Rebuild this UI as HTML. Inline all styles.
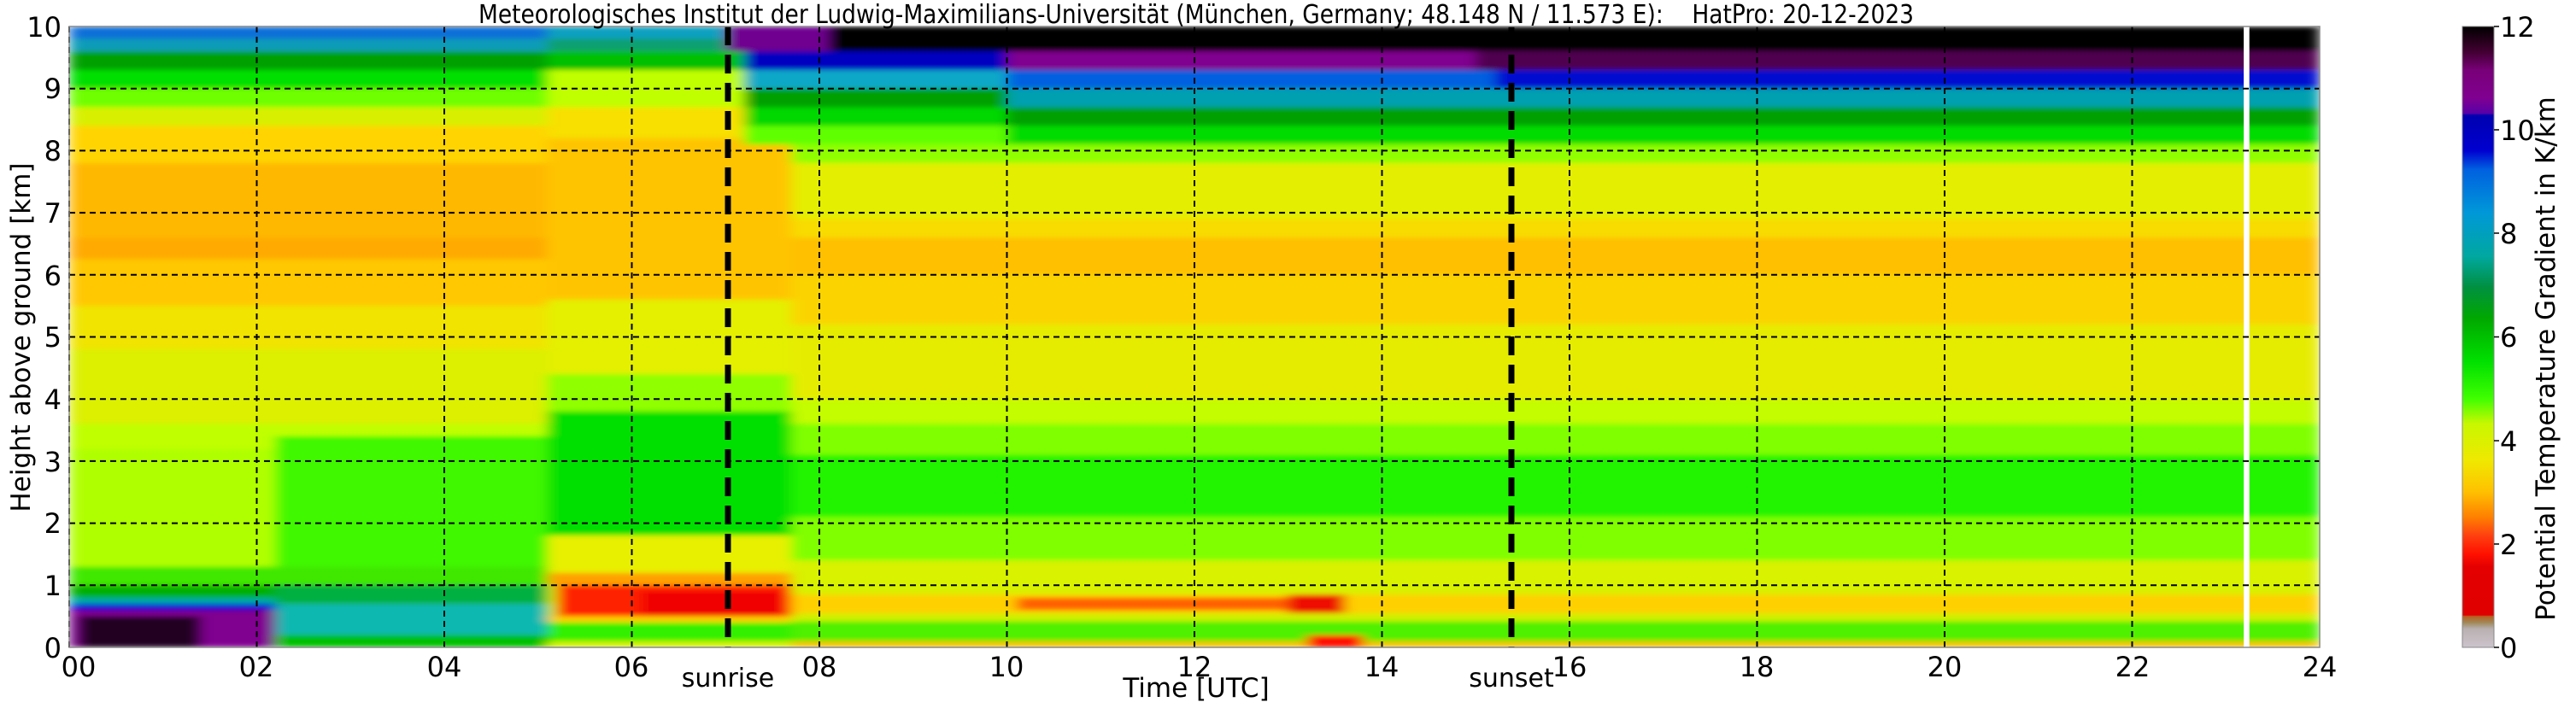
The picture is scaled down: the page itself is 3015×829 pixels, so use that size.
<!DOCTYPE html>
<html><head><meta charset="utf-8">
<style>
html,body{margin:0;padding:0;background:#fff;}
svg text{font-family:"DejaVu Sans","Liberation Sans",sans-serif;fill:#000;}
</style></head>
<body>
<svg width="3015" height="824" xmlns="http://www.w3.org/2000/svg">
<defs>
<linearGradient id="cb" x1="0" y1="1" x2="0" y2="0">
<stop offset="0" stop-color="#ccc4cc"/><stop offset="0.03" stop-color="#b8b0b0"/>
<stop offset="0.04" stop-color="#a08858"/><stop offset="0.05" stop-color="#b86020"/>
<stop offset="0.052" stop-color="#e00000"/><stop offset="0.13" stop-color="#e40000"/>
<stop offset="0.15" stop-color="#ff1000"/><stop offset="0.18" stop-color="#ff4010"/>
<stop offset="0.21" stop-color="#ff8000"/><stop offset="0.25" stop-color="#ffc000"/>
<stop offset="0.3" stop-color="#f0e800"/><stop offset="0.36" stop-color="#c8f800"/>
<stop offset="0.4" stop-color="#40ff00"/><stop offset="0.46" stop-color="#00e000"/>
<stop offset="0.53" stop-color="#00a800"/><stop offset="0.58" stop-color="#009040"/>
<stop offset="0.63" stop-color="#00a8a0"/><stop offset="0.7" stop-color="#0098d8"/>
<stop offset="0.77" stop-color="#0060e0"/><stop offset="0.8" stop-color="#0000d0"/>
<stop offset="0.857" stop-color="#0000b0"/><stop offset="0.86" stop-color="#5800a8"/>
<stop offset="0.885" stop-color="#800090"/><stop offset="0.93" stop-color="#780078"/>
<stop offset="0.96" stop-color="#400030"/><stop offset="1" stop-color="#000"/>
</linearGradient>
</defs>

<svg x="81" y="31" width="2634" height="727" viewBox="0 0 24 10" preserveAspectRatio="none">
<defs>
<filter id="bl" x="0" y="0" width="1" height="1"><feGaussianBlur stdDeviation="0.07 0.04" edgeMode="duplicate"/></filter>
</defs>
<g filter="url(#bl)">
<rect x="0" y="0" width="24" height="10" fill="#d0f000"/>
<rect x="0" y="0" width="5.1" height="0.2" fill="#0a70d8"/>
<rect x="0" y="0.2" width="5.1" height="0.2" fill="#0a9cb8"/>
<rect x="0" y="0.4" width="5.1" height="0.3" fill="#00a000"/>
<rect x="0" y="0.7" width="5.1" height="0.3" fill="#00e000"/>
<rect x="0" y="1.0" width="5.1" height="0.3" fill="#70ff00"/>
<rect x="0" y="1.3" width="5.1" height="0.3" fill="#d8f000"/>
<rect x="0" y="1.6" width="5.1" height="0.6" fill="#ffd400"/>
<rect x="0" y="2.2" width="5.1" height="1.2" fill="#ffb800"/>
<rect x="0" y="3.4" width="5.1" height="0.35" fill="#ffaa00"/>
<rect x="0" y="3.75" width="5.1" height="0.75" fill="#ffc800"/>
<rect x="0" y="4.5" width="5.1" height="0.7" fill="#f0e400"/>
<rect x="0" y="5.2" width="5.1" height="1.2" fill="#dcf000"/>
<rect x="0" y="6.4" width="5.1" height="0.4" fill="#c0ff00"/>
<rect x="0" y="6.8" width="5.1" height="1.9" fill="#b0ff00"/>
<rect x="2.2" y="6.6" width="2.9" height="2.2" fill="#40f800"/>
<rect x="0" y="8.7" width="5.1" height="0.3" fill="#40e800"/>
<rect x="0" y="9.0" width="5.1" height="0.2" fill="#00b000"/>
<rect x="0" y="9.2" width="2.2" height="0.1" fill="#00a8a8"/>
<rect x="0" y="9.3" width="2.2" height="0.1" fill="#0000d8"/>
<rect x="0" y="9.4" width="2.2" height="0.6" fill="#800090"/>
<rect x="0.1" y="9.5" width="1.3" height="0.5" fill="#200020"/>
<rect x="2.2" y="9.0" width="2.9" height="0.3" fill="#00b040"/>
<rect x="2.2" y="9.3" width="2.9" height="0.5" fill="#10b8b0"/>
<rect x="2.2" y="9.8" width="2.9" height="0.2" fill="#00c000"/>

<rect x="5.1" y="0" width="2.6" height="0.2" fill="#10a0c0"/>
<rect x="5.1" y="0.2" width="2.6" height="0.2" fill="#10a070"/>
<rect x="5.1" y="0.4" width="2.6" height="0.3" fill="#00c000"/>
<rect x="5.1" y="0.7" width="2.6" height="0.6" fill="#c0ff00"/>
<rect x="5.1" y="1.3" width="2.6" height="0.5" fill="#f8e000"/>
<rect x="5.1" y="1.8" width="2.6" height="2.6" fill="#ffc400"/>
<rect x="5.1" y="4.4" width="2.6" height="1.2" fill="#e4f000"/>
<rect x="5.1" y="5.6" width="2.6" height="0.6" fill="#90ff00"/>
<rect x="5.1" y="6.2" width="2.6" height="2.0" fill="#00e000"/>
<rect x="5.1" y="8.2" width="2.6" height="0.6" fill="#e8f000"/>
<rect x="5.1" y="8.8" width="2.6" height="0.2" fill="#ffa000"/>
<rect x="5.2" y="9.0" width="2.5" height="0.5" fill="#ff2000"/>
<rect x="6.1" y="9.1" width="1.5" height="0.4" fill="#f00000"/>
<rect x="5.1" y="9.5" width="2.6" height="0.1" fill="#ffd000"/>
<rect x="5.1" y="9.6" width="2.6" height="0.3" fill="#30f000"/>
<rect x="5.1" y="9.9" width="2.6" height="0.1" fill="#d0f000"/>

<rect x="7.7" y="0" width="16.3" height="0.4" fill="#000"/>
<rect x="7.0" y="0" width="1.1" height="0.4" fill="#700090"/>
<rect x="7.7" y="0.4" width="16.3" height="0.3" fill="#800090"/>
<rect x="15.0" y="0.4" width="9.0" height="0.3" fill="#500050"/>
<rect x="7.2" y="0.4" width="2.8" height="0.3" fill="#0000c0"/>
<rect x="7.2" y="0.7" width="16.8" height="0.3" fill="#0060e0"/>
<rect x="15.2" y="0.7" width="8.8" height="0.3" fill="#0010d0"/>
<rect x="7.2" y="0.7" width="2.8" height="0.3" fill="#10a8c8"/>
<rect x="7.2" y="1.0" width="16.8" height="0.3" fill="#00a0b0"/>
<rect x="7.2" y="1.0" width="2.8" height="0.3" fill="#00a000"/>
<rect x="7.2" y="1.3" width="16.8" height="0.3" fill="#00a000"/>
<rect x="7.2" y="1.3" width="2.8" height="0.3" fill="#00d800"/>
<rect x="7.2" y="1.6" width="16.8" height="0.3" fill="#00dc00"/>
<rect x="7.2" y="1.6" width="2.8" height="0.3" fill="#60ff00"/>
<rect x="7.7" y="1.9" width="16.3" height="0.3" fill="#90ff00"/>
<rect x="7.7" y="2.2" width="16.3" height="0.9" fill="#e4ee00"/>
<rect x="7.7" y="3.1" width="16.3" height="0.3" fill="#f8dc00"/>
<rect x="7.7" y="3.4" width="16.3" height="0.6" fill="#ffc000"/>
<rect x="7.7" y="4.0" width="16.3" height="0.8" fill="#fbd400"/>
<rect x="7.7" y="4.8" width="16.3" height="1.2" fill="#e6ec00"/>
<rect x="7.7" y="6.0" width="16.3" height="0.4" fill="#c4fc00"/>
<rect x="7.7" y="6.4" width="16.3" height="0.5" fill="#80ff00"/>
<rect x="7.7" y="6.9" width="16.3" height="1.0" fill="#20f400"/>
<rect x="7.7" y="7.9" width="16.3" height="0.7" fill="#80ff00"/>
<rect x="7.7" y="8.6" width="16.3" height="0.55" fill="#d8f200"/>
<rect x="7.7" y="9.15" width="16.3" height="0.3" fill="#ffd000"/>
<rect x="10.1" y="9.2" width="3.5" height="0.2" fill="#ff6000"/>
<rect x="13.0" y="9.15" width="0.6" height="0.3" fill="#ee1000"/>
<rect x="7.7" y="9.45" width="16.3" height="0.13" fill="#d0f000"/>
<rect x="7.7" y="9.58" width="16.3" height="0.32" fill="#50f000"/>
<rect x="7.7" y="9.9" width="16.3" height="0.1" fill="#f4c000"/>
<rect x="13.2" y="9.8" width="0.6" height="0.2" fill="#ff1000"/>
</g>
<rect x="23.19" y="0" width="0.06" height="10" fill="#fff"/>
</svg>

<g stroke="#000" stroke-width="2" stroke-dasharray="7,5" fill="none">
<line x1="300.5" y1="31" x2="300.5" y2="758"/>
<line x1="520" y1="31" x2="520" y2="758"/>
<line x1="739.5" y1="31" x2="739.5" y2="758"/>
<line x1="959" y1="31" x2="959" y2="758"/>
<line x1="1178.5" y1="31" x2="1178.5" y2="758"/>
<line x1="1398" y1="31" x2="1398" y2="758"/>
<line x1="1617.5" y1="31" x2="1617.5" y2="758"/>
<line x1="1837" y1="31" x2="1837" y2="758"/>
<line x1="2056.5" y1="31" x2="2056.5" y2="758"/>
<line x1="2276" y1="31" x2="2276" y2="758"/>
<line x1="2495.5" y1="31" x2="2495.5" y2="758"/>
<line x1="81" y1="31" x2="81" y2="758"/>
<line x1="81" y1="685.3" x2="2715" y2="685.3"/>
<line x1="81" y1="612.6" x2="2715" y2="612.6"/>
<line x1="81" y1="539.9" x2="2715" y2="539.9"/>
<line x1="81" y1="467.2" x2="2715" y2="467.2"/>
<line x1="81" y1="394.5" x2="2715" y2="394.5"/>
<line x1="81" y1="321.8" x2="2715" y2="321.8"/>
<line x1="81" y1="249.1" x2="2715" y2="249.1"/>
<line x1="81" y1="176.4" x2="2715" y2="176.4"/>
<line x1="81" y1="103.7" x2="2715" y2="103.7"/>
</g>
<g stroke="#000" stroke-width="7" stroke-dasharray="22,11">
<line x1="852" y1="31" x2="852" y2="758"/>
<line x1="1769" y1="31" x2="1769" y2="758"/>
</g>
<rect x="81" y="31" width="2634" height="727" fill="none" stroke="#888" stroke-width="1.5"/>

<g font-size="32" text-anchor="end">
<text x="72" y="770">0</text><text x="72" y="697">1</text><text x="72" y="624">2</text>
<text x="72" y="552">3</text><text x="72" y="479">4</text><text x="72" y="406">5</text>
<text x="72" y="334">6</text><text x="72" y="261">7</text><text x="72" y="188">8</text>
<text x="72" y="115">9</text><text x="72" y="43">10</text>
</g>
<text font-size="31" text-anchor="middle" transform="translate(35,395) rotate(-90)">Height above ground [km]</text>
<g font-size="32" text-anchor="middle">
<text x="92" y="792">00</text><text x="300" y="792">02</text><text x="520" y="792">04</text>
<text x="739" y="792">06</text><text x="959" y="792">08</text><text x="1178" y="792">10</text>
<text x="1398" y="792">12</text><text x="1617" y="792">14</text><text x="1837" y="792">16</text>
<text x="2056" y="792">18</text><text x="2276" y="792">20</text><text x="2496" y="792">22</text>
<text x="2715" y="792">24</text>
</g>
<text x="852" y="804" font-size="30" text-anchor="middle">sunrise</text>
<text x="1769" y="804" font-size="30" text-anchor="middle">sunset</text>
<text x="1400" y="816" font-size="31" text-anchor="middle">Time [UTC]</text>

<text x="560" y="27" font-size="30" textLength="1680" lengthAdjust="spacingAndGlyphs" xml:space="preserve">Meteorologisches Institut der Ludwig-Maximilians-Universität (München, Germany; 48.148 N / 11.573 E):    HatPro: 20-12-2023</text>

<rect x="2882" y="31" width="37" height="727" fill="url(#cb)" stroke="#888" stroke-width="1"/>
<g stroke="#000" stroke-width="1.5">
<line x1="2919" y1="31" x2="2925" y2="31"/><line x1="2919" y1="152" x2="2925" y2="152"/>
<line x1="2919" y1="273" x2="2925" y2="273"/><line x1="2919" y1="394.5" x2="2925" y2="394.5"/>
<line x1="2919" y1="516" x2="2925" y2="516"/><line x1="2919" y1="637" x2="2925" y2="637"/>
<line x1="2919" y1="758" x2="2925" y2="758"/>
</g>
<g font-size="32">
<text x="2926" y="770">0</text><text x="2926" y="649">2</text><text x="2926" y="528">4</text>
<text x="2926" y="406">6</text><text x="2926" y="285">8</text><text x="2926" y="164">10</text>
<text x="2926" y="43">12</text>
</g>
<text font-size="31" text-anchor="middle" transform="translate(2990,420) rotate(-90)">Potential Temperature Gradient in K/km</text>
</svg>
</body></html>
